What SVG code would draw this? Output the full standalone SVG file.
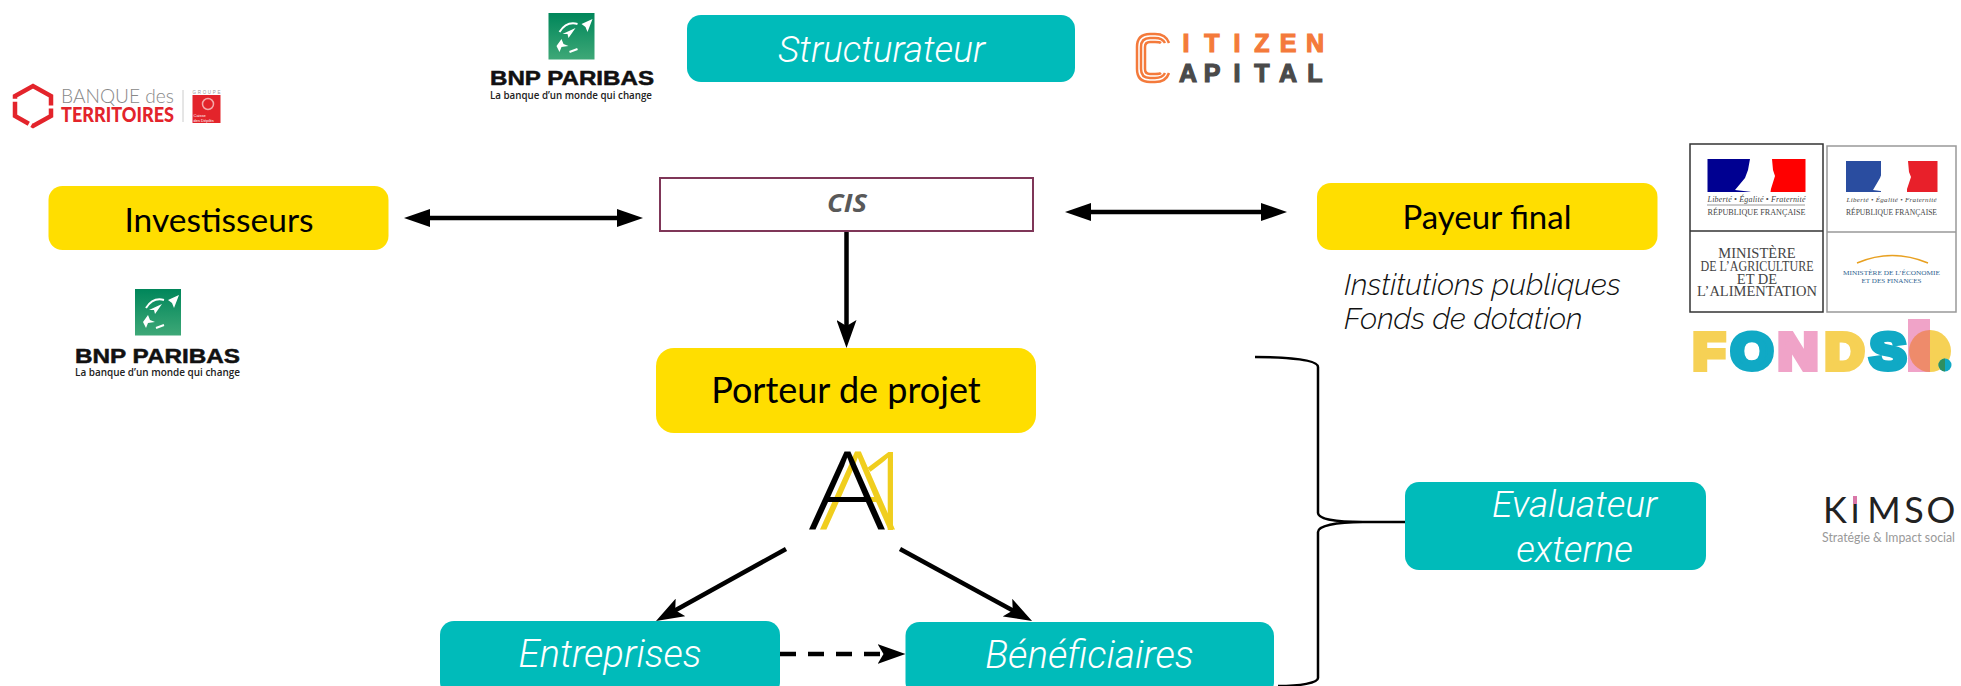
<svg xmlns="http://www.w3.org/2000/svg" width="1961" height="686" viewBox="0 0 1961 686">
<style>
.y{fill:#FFDE00}.t{fill:#00BBBA}
.lb{font-family:"Lato","Noto Sans",sans-serif;font-size:36px;fill:#000;text-anchor:middle}
.lt{font-family:"Roboto","Liberation Sans",sans-serif;font-weight:300;font-style:italic;font-size:37px;fill:#fff;text-anchor:middle}
.bnp{font-family:"Liberation Sans",sans-serif;font-weight:700;font-size:20px;fill:#111;stroke:#111;stroke-width:.5}
.tag{font-family:"Open Sans","Liberation Sans",sans-serif;font-weight:600;font-size:11px;fill:#222}
.ln{fill:none;stroke:#000;stroke-width:4.5}
.rf{font-family:"Liberation Serif",serif;fill:#444;text-anchor:middle}
.fd{font-family:"Liberation Sans",sans-serif;font-weight:700;font-size:50px;stroke-width:6}
.cz{font-family:"Liberation Sans",sans-serif;font-weight:700;font-size:25px;text-anchor:middle;stroke-width:1.2}
</style>
<defs>
<linearGradient id="g" x1="0" y1="0" x2="0" y2="1"><stop offset="0" stop-color="#00865a"/><stop offset="1" stop-color="#3ea877"/></linearGradient>
<marker id="tri" viewBox="0 0 26 18" refX="4" refY="9" markerWidth="26" markerHeight="18" markerUnits="userSpaceOnUse" orient="auto-start-reverse"><path d="M0 0L26 9L0 18Z" fill="#000"/></marker>
<marker id="st" viewBox="0 0 28 20" refX="12" refY="10" markerWidth="28" markerHeight="20" markerUnits="userSpaceOnUse" orient="auto"><path d="M0 0L28 10L0 20L6 10Z" fill="#000"/></marker>
<g id="bnpmark">
<rect width="46" height="46.500" fill="url(#g)"/>
<path d="M33 11L44 6L39 19L37 14ZM14 21L27 15L20 25L19 21ZM8 33L13 26L15 31L20 33L13 34L11 39Z" fill="#fff"/>
<path d="M11 19Q18 8 29 11M21 39L29 36" stroke="#fff" stroke-width="2" fill="none"/>
</g>
</defs>

<g id="connectors">
<path class="ln" d="M426 218H621" marker-start="url(#tri)" marker-end="url(#tri)"/>
<path class="ln" d="M1087 212H1265" marker-start="url(#tri)" marker-end="url(#tri)"/>
<path class="ln" d="M846.500 231V332" marker-end="url(#st)"/>
<path class="ln" d="M786 549L670 613.200" marker-end="url(#st)"/>
<path class="ln" d="M900 549L1018 613.300" marker-end="url(#st)"/>
<path class="ln" d="M780 654H889.500" stroke-dasharray="16 12" stroke-width="5" marker-end="url(#st)"/>
<path fill="none" stroke="#000" stroke-width="2.500" d="M1255 357C1290 357 1318 360 1318 367V513C1318 519 1335 522 1363 522H1405M1363 522C1335 522 1318 526 1318 532V678C1318 683 1300 686 1278 686"/>
</g>

<g id="node-structurateur"><rect class="t" x="687" y="15" width="388" height="67" rx="14"/><text class="lt" x="881.500" y="62">Structurateur</text></g>
<g id="node-investisseurs"><rect class="y" x="48.500" y="186" width="340" height="64" rx="14"/><text class="lb" x="219" y="232" font-size="33.500" style="font-size:33.500px">Investisseurs</text></g>
<g id="node-cis"><rect x="660" y="178" width="373" height="53" fill="#fff" stroke="#7f3658" stroke-width="2"/><text x="847" y="212" font-family="Open Sans, Liberation Sans, sans-serif" font-weight="700" font-style="italic" font-size="25" fill="#595959" text-anchor="middle" textLength="40" lengthAdjust="spacingAndGlyphs">CIS</text></g>
<g id="node-payeur"><rect class="y" x="1317" y="183" width="340.500" height="67" rx="14"/><text class="lb" x="1487" y="229" style="font-size:33px">Payeur final</text></g>
<g id="node-payeur-note" font-family="Raleway, Lato, sans-serif" font-style="italic" font-weight="300" font-size="29.800" fill="#111"><text x="1344" y="295">Institutions publiques</text><text x="1344" y="329">Fonds de dotation</text></g>
<g id="node-porteur"><rect class="y" x="656" y="348" width="380" height="85" rx="18"/><text class="lb" x="846" y="403">Porteur de projet</text></g>
<g id="node-entreprises"><rect class="t" x="440" y="621" width="340" height="75" rx="14"/><text class="lt" x="610" y="667" style="font-size:38.300px">Entreprises</text></g>
<g id="node-beneficiaires"><rect class="t" x="905.500" y="622" width="368.500" height="74" rx="14"/><text class="lt" x="1089.500" y="668" style="font-size:38.500px">Bénéficiaires</text></g>
<g id="node-evaluateur"><rect class="t" x="1405" y="482" width="301" height="88" rx="14"/><text class="lt" x="1574.500" y="517">Evaluateur</text><text class="lt" x="1574.500" y="562">externe</text></g>

<g id="logo-a1" font-family="Open Sans, Lato, sans-serif" font-weight="300" font-size="108">
<text x="820" y="530" fill="#F0CE1E" textLength="75" lengthAdjust="spacingAndGlyphs">A</text>
<text x="857" y="530" fill="#F0CE1E">1</text>
<text x="809" y="530" fill="#000" textLength="76" lengthAdjust="spacingAndGlyphs">A</text>
</g>

<g id="logo-bnp-top"><use href="#bnpmark" x="548.500" y="13"/><text class="bnp" x="490" y="85" textLength="164" lengthAdjust="spacingAndGlyphs">BNP PARIBAS</text><text class="tag" x="490" y="99" textLength="162" lengthAdjust="spacingAndGlyphs">La banque d’un monde qui change</text></g>
<g id="logo-bnp-left"><use href="#bnpmark" x="135" y="289"/><text class="bnp" x="75" y="363" textLength="165" lengthAdjust="spacingAndGlyphs">BNP PARIBAS</text><text class="tag" x="75" y="375.500" textLength="165" lengthAdjust="spacingAndGlyphs">La banque d’un monde qui change</text></g>

<g id="logo-banque">
<path d="M33 86L51 96V116L33 126L15 116V96Z" fill="none" stroke="#e3242b" stroke-width="4.500" stroke-dasharray="30 3"/>
<text x="61" y="103" font-family="Lato, sans-serif" font-weight="300" font-size="20" fill="#888" textLength="113" lengthAdjust="spacingAndGlyphs">BANQUE des</text>
<text x="61" y="122" font-family="Lato, sans-serif" font-weight="900" font-size="20" fill="#e3242b" textLength="113" lengthAdjust="spacingAndGlyphs">TERRITOIRES</text>
<path d="M183 90V122" stroke="#ccc"/>
<text x="192.500" y="94" font-family="Liberation Sans, sans-serif" font-size="4.500" fill="#999" textLength="28">GROUPE</text>
<rect x="192.500" y="95" width="28" height="28" fill="#e3242b"/>
<circle cx="208" cy="104" r="5.500" fill="none" stroke="#f4a9a9" stroke-width="1.500"/>
<text x="193.500" y="117" font-family="Liberation Sans, sans-serif" font-size="4" fill="#fff">Caisse</text>
<text x="193.500" y="121.500" font-family="Liberation Sans, sans-serif" font-size="4" fill="#fff">des Dépôts</text>
</g>

<g id="logo-citizen">
<g fill="none" stroke="#f47a3b" stroke-width="2.500"><path d="M1169 43C1167 37 1162 34 1155 34H1150C1141 34 1137 39 1137 47V69C1137 77 1141 82 1150 82H1155C1162 82 1167 79 1169 73"/><path d="M1165 43C1163 39 1160 38 1155 38H1150C1144 38 1141 41 1141 47V69C1141 75 1144 78 1150 78H1155C1160 78 1163 77 1165 73"/><path d="M1161 43C1160 42 1158 42 1155 42H1150C1146 42 1145 44 1145 47V69C1145 72 1146 74 1150 74H1155C1158 74 1160 74 1161 73"/></g>
<text class="cz" y="52" fill="#f47a3b" stroke="#f47a3b" x="1186 1212 1237 1262 1288 1315">ITIZEN</text>
<text class="cz" y="82" fill="#4a4a4a" stroke="#4a4a4a" x="1188 1212 1237 1262 1288 1315">APITAL</text>
</g>

<g id="logo-ministere-agriculture">
<rect x="1690" y="144" width="133" height="168" fill="#fff" stroke="#333" stroke-width="1.500"/><path d="M1690 231H1823" stroke="#333" stroke-width="1.500"/>
<rect x="1707.500" y="159" width="43" height="33" fill="#000091"/><rect x="1770.500" y="159" width="35" height="33" fill="#f00"/>
<path d="M1750 159H1772L1773 170L1775 176L1770 192H1752L1735 190L1745 178L1748 170Z" fill="#fff"/>
<text class="rf" x="1756.500" y="202" font-size="8" font-style="italic" textLength="98">Liberté • Égalité • Fraternité</text>
<path d="M1707 205H1805" stroke="#999"/>
<text class="rf" x="1756.500" y="215" font-size="9" textLength="98" lengthAdjust="spacingAndGlyphs">RÉPUBLIQUE FRANÇAISE</text>
<g font-size="14.500"><text class="rf" x="1757" y="258">MINISTÈRE</text><text class="rf" x="1757" y="271" textLength="113" lengthAdjust="spacingAndGlyphs">DE L’AGRICULTURE</text><text class="rf" x="1757" y="284">ET DE</text><text class="rf" x="1757" y="296">L’ALIMENTATION</text></g>
</g>

<g id="logo-ministere-economie">
<rect x="1827" y="146" width="129" height="166" fill="#fff" stroke="#999" stroke-width="1.500"/><path d="M1827 232H1956" stroke="#999" stroke-width="1.500"/>
<rect x="1846" y="161" width="35" height="31" fill="#2a4da0"/><rect x="1907" y="161" width="30.500" height="31" fill="#e8202a"/>
<path d="M1881 161H1908L1909 172L1911 177L1906 192H1888L1873 190L1880 178L1883 170Z" fill="#fff"/>
<text class="rf" x="1891.500" y="202" font-size="7" font-style="italic" textLength="90">Liberté • Égalité • Fraternité</text>
<text class="rf" x="1891.500" y="215" font-size="9" textLength="91" lengthAdjust="spacingAndGlyphs">RÉPUBLIQUE FRANÇAISE</text>
<path d="M1857 263Q1892 248 1928 263" fill="none" stroke="#e8a020" stroke-width="1.500"/>
<text x="1891.500" y="275" font-family="Liberation Serif, serif" font-size="7" fill="#2f5f8f" text-anchor="middle" textLength="97" lengthAdjust="spacingAndGlyphs">MINISTÈRE DE L’ÉCONOMIE</text>
<text x="1891.500" y="282.500" font-family="Liberation Serif, serif" font-size="6" fill="#2f5f8f" text-anchor="middle" textLength="60" lengthAdjust="spacingAndGlyphs">ET DES FINANCES</text>
</g>

<g id="logo-fonds">
<text class="fd" x="1693" y="369" fill="#f6d155" stroke="#f6d155" textLength="32" lengthAdjust="spacingAndGlyphs">F</text>
<text class="fd" x="1731" y="369" fill="#10a9c5" stroke="#10a9c5" textLength="42" lengthAdjust="spacingAndGlyphs">O</text>
<text class="fd" x="1778" y="369" fill="#f0a3c8" stroke="#f0a3c8" textLength="40" lengthAdjust="spacingAndGlyphs">N</text>
<text class="fd" x="1825" y="369" fill="#f6d155" stroke="#f6d155" textLength="39" lengthAdjust="spacingAndGlyphs">D</text>
<text class="fd" x="1870" y="369" fill="#10a9c5" stroke="#10a9c5" textLength="36" lengthAdjust="spacingAndGlyphs">S</text>
<rect x="1908" y="319" width="22" height="53" fill="#f0a3c8"/>
<path d="M1930 330A21 21 0 0 1 1930 372Z" fill="#f6d155"/>
<path d="M1930 330A21 21 0 0 0 1930 372Z" fill="#ee8b6b"/>
<circle cx="1945" cy="365" r="6.500" fill="#10a9c5"/><path d="M1945 358.500A6.500 6.500 0 0 0 1945 371.500Z" fill="#2f8f5f"/>
</g>

<g id="logo-kimso">
<text y="522.500" font-family="Lato, sans-serif" font-size="36" fill="#222" text-anchor="middle" x="1835 1855 1884 1914 1941">KıMSO</text>
<rect x="1853" y="496" width="4" height="8" fill="#d977a8"/>
<text x="1822" y="541.500" font-family="Lato, sans-serif" font-size="13" fill="#999" textLength="133" lengthAdjust="spacingAndGlyphs">Stratégie &amp; Impact social</text>
</g>
</svg>
